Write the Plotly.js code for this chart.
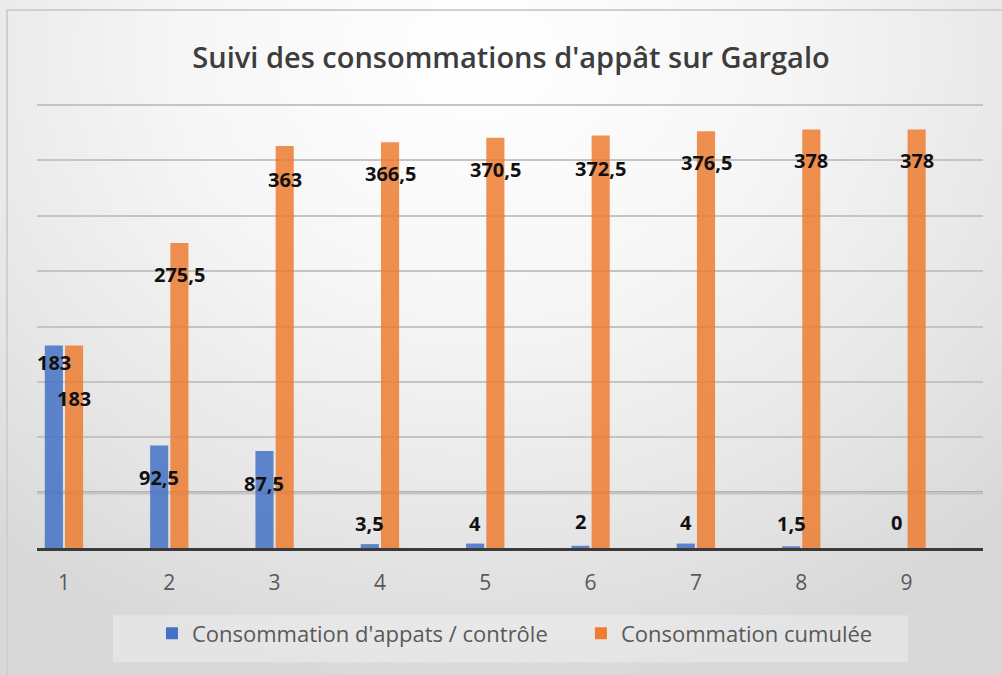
<!DOCTYPE html>
<html>
<head>
<meta charset="utf-8">
<script src="https://cdn.plot.ly/plotly-3.0.1.min.js"></script>
<style>
  html, body { margin: 0; padding: 0; }
  #wrap {
    position: relative; width: 1002px; height: 675px; overflow: hidden;
    background: radial-gradient(ellipse 75% 95% at 48% 8%, #ffffff 0%, #f6f6f6 40%, #e6e6e6 75%, #d8d8d8 100%);
  }
  #frame {
    position: absolute; left: 6px; top: 9px; right: -10px; bottom: -10px;
    border-left: 2px solid #cfcfcf; border-top: 2px solid #cfcfcf;
    pointer-events: none;
  }
  #chart { position: absolute; left: 0; top: 0; width: 1002px; height: 675px; }
</style>
</head>
<body>
<div id="wrap">
  <div id="chart"></div>
  <div id="frame"></div>
</div>
<script>
// ---- data ----
const categories = [1, 2, 3, 4, 5, 6, 7, 8, 9];
const controle = [183, 92.5, 87.5, 3.5, 4, 2, 4, 1.5, 0];
const cumulee = [183, 275.5, 363, 366.5, 370.5, 372.5, 376.5, 378, 378];
const seriesNames = ["Consommation d'appats / contrôle", "Consommation cumulée"];
const chartTitle = "Suivi des consommations d'appât sur Gargalo";

// ---- label placement (pixels, positive = up) ----
const blueShift = [-17, -32, -32, 21, 20, 24, 21, 23, 26];
const orangeShift = [-53, -32, -33, -31, -32, -33, -31, -31, -31];

const BAR_W = 0.172;
const BLUE_OFF = -0.182;
const ORANGE_OFF = 0.01;

function fmt(v) { return String(v).replace('.', ','); }

const traces = [
  {
    type: 'bar', name: seriesNames[0], x: categories, y: controle,
    width: BAR_W, offset: BLUE_OFF,
    marker: { color: '#4472C4', opacity: 0.85, line: { width: 0 } },
    hoverinfo: 'skip'
  },
  {
    type: 'bar', name: seriesNames[1], x: categories, y: cumulee,
    width: BAR_W, offset: ORANGE_OFF,
    marker: { color: '#ED7D31', opacity: 0.85, line: { width: 0 } },
    hoverinfo: 'skip'
  }
];

const labelFont = { family: 'Open Sans, sans-serif', size: 20, color: '#111111', weight: 700 };
const annotations = [];
categories.forEach((c, i) => {
  annotations.push({
    x: c + BLUE_OFF + BAR_W / 2, y: controle[i], xref: 'x', yref: 'y',
    text: '<b>' + fmt(controle[i]) + '</b>', showarrow: false,
    yanchor: 'middle', xanchor: 'center', yshift: blueShift[i], font: labelFont
  });
  annotations.push({
    x: c + ORANGE_OFF + BAR_W / 2, y: cumulee[i], xref: 'x', yref: 'y',
    text: '<b>' + fmt(cumulee[i]) + '</b>', showarrow: false,
    yanchor: 'middle', xanchor: 'center', yshift: orangeShift[i], font: labelFont
  });
});

const layout = {
  width: 1002, height: 675,
  margin: { l: 37, r: 19, t: 104, b: 127, autoexpand: false },
  paper_bgcolor: 'rgba(0,0,0,0)',
  plot_bgcolor: 'rgba(0,0,0,0)',
  font: { family: 'Open Sans, sans-serif', color: '#595959' },
  title: {
    text: chartTitle,
    x: 0.51, xref: 'container', xanchor: 'center',
    y: 0.914, yref: 'container', yanchor: 'middle',
    font: { family: 'Open Sans, sans-serif', size: 29, color: '#3d3d3d', weight: 600 }
  },
  barmode: 'overlay',
  xaxis: {
    range: [0.744, 9.726],
    tickmode: 'array', tickvals: categories, ticktext: categories.map(String),
    ticks: '', showgrid: false, zeroline: false,
    showline: true, linecolor: '#3a3a3a', linewidth: 3,
    tickfont: { size: 21, color: '#595959' },
    ticklabelstandoff: 14,
    automargin: false,
    fixedrange: true
  },
  yaxis: {
    range: [0, 401], dtick: 50, tick0: 0,
    showticklabels: false, ticks: '',
    showgrid: true, gridcolor: '#c4c4c4', gridwidth: 2,
    zeroline: false, showline: false, automargin: false, fixedrange: true
  },
  shapes: [
    { type: 'line', xref: 'paper', x0: 0, x1: 1, yref: 'y', y0: 50, y1: 50,
      line: { color: '#a3a3a3', width: 3 }, layer: 'below' },
    { type: 'rect', xref: 'paper', yref: 'paper',
      x0: 0.0803, x1: 0.9207, y0: -0.1512, y1: -0.2573,
      fillcolor: 'rgba(255,255,255,0.3)', line: { width: 0 }, layer: 'below' }
  ],
  legend: {
    orientation: 'h', x: 0.575, xanchor: 'center', y: -0.145, yanchor: 'top',
    bgcolor: 'rgba(0,0,0,0)', borderwidth: 0,
    font: { size: 22, color: '#595959' },
    entrywidth: 384, entrywidthmode: 'pixels',
    itemclick: false, itemdoubleclick: false
  },
  annotations: annotations,
  showlegend: true
};

Plotly.newPlot('chart', traces, layout, { displayModeBar: false, staticPlot: true });
</script>
</body>
</html>
